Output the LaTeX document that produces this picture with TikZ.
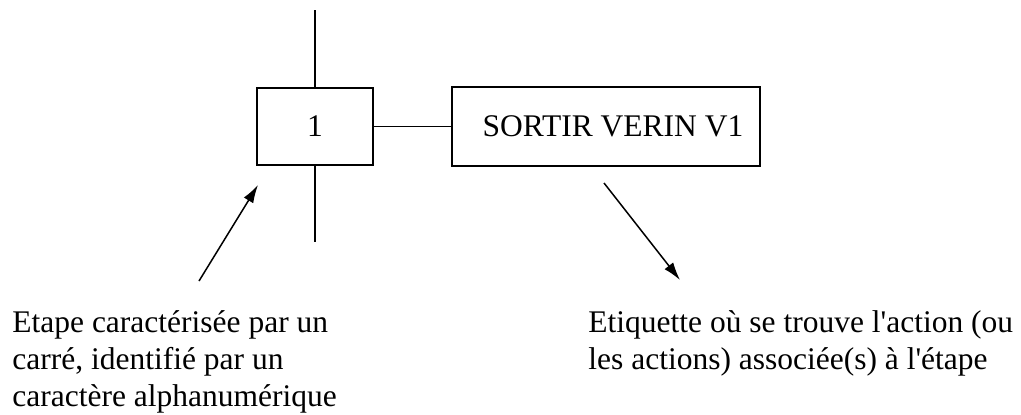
\documentclass[tikz,border=0pt]{standalone}
\usepackage{fontspec}
\setmainfont{Liberation Serif}[Ligatures=TeXOff]
\usetikzlibrary{positioning,arrows.meta}

\begin{document}
\begin{tikzpicture}[x=0.5pt,y=-0.5pt]
    \tikzset{grafcet/.style={draw, line width=1pt, inner sep=0pt, font=\fontsize{15.75}{18.5}\selectfont},
      stepbox/.style={grafcet, minimum width=58pt, minimum height=38.5pt},
      actionbox/.style={grafcet, minimum width=154pt, minimum height=39.5pt},
      comment/.style={align=left, inner sep=0pt, anchor=base west, font=\fontsize{15.75}{18.5}\selectfont},
      pointer/.style={-{Latex[length=9pt,width=5.5pt]}, line width=0.75pt}
    }

    \useasboundingbox (0,0) rectangle (1021,414);

    \node[stepbox] (S1) at (315,126.5) {1};
    \node[actionbox] (A1) [right=38.5pt of S1] {\hspace*{7pt}SORTIR VERIN V1};

    \coordinate (in) at (315,10);
    \coordinate (out) at (315,242);
    \draw[line width=0.8pt] (in) -- (S1) (S1) -- (out);
    \draw[line width=0.8pt] (S1) -- (A1);

    % base of a multi-line node is its last line
    \node[comment] (stepnote) at (12,406) {Etape caractérisée par un\\carré, identifié par un\\caractère alphanumérique};
    \node[comment] (actionnote) at (588,369) {Etiquette où se trouve l'action (ou\\les actions) associée(s) à l'étape};

    % pointers to the step and to its label
    \coordinate (p1) at (199,281);
    \coordinate (q1) at (258,185);
    \coordinate (p2) at (604,183);
    \coordinate (q2) at (680,280);
    \draw[pointer] (p1) -- (q1);
    \draw[pointer] (p2) -- (q2);
  \end{tikzpicture}
\end{document}
